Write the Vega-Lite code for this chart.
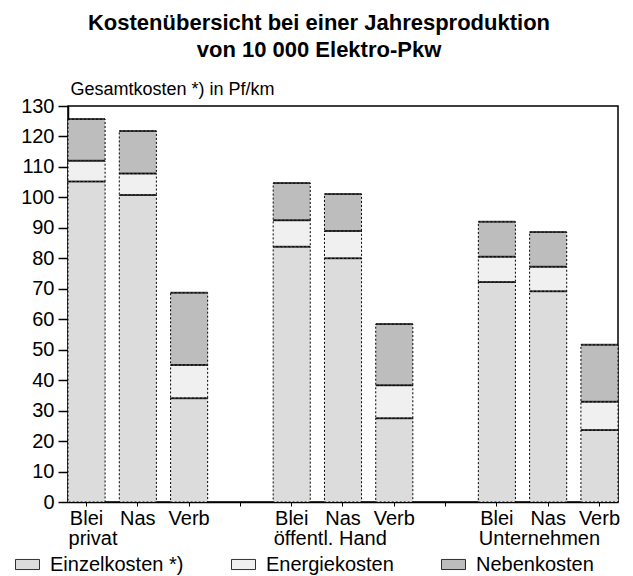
{
  "$schema": "https://vega.github.io/schema/vega-lite/v6.json",
  "width": 550,
  "height": 396,
  "autosize": {"type": "none"},
  "padding": {"left": 68, "top": 106, "right": 15, "bottom": 74},
  "title": {
    "text": ["Kostenübersicht bei einer Jahresproduktion", "von 10 000 Elektro-Pkw"],
    "font": "Liberation Sans",
    "fontSize": 22,
    "fontWeight": "bold",
    "color": "black",
    "anchor": "middle",
    "dx": -24,
    "offset": 18,
    "lineHeight": 27
  },
  "config": {
    "view": {"stroke": "black", "strokeWidth": 1.5},
    "font": "Liberation Sans",
    "axis": {"labelColor": "black", "titleColor": "black", "domainColor": "black", "tickColor": "black", "grid": false, "labelFont": "Liberation Sans", "titleFont": "Liberation Sans"},
    "legend": {"labelColor": "black", "labelFont": "Liberation Sans"}
  },
  "data": {
    "values": [
      {"slot": "privat|Blei", "komponente": "Einzelkosten *)", "wert": 105.2},
      {"slot": "privat|Blei", "komponente": "Energiekosten", "wert": 6.8},
      {"slot": "privat|Blei", "komponente": "Nebenkosten", "wert": 13.7},
      {"slot": "privat|Nas", "komponente": "Einzelkosten *)", "wert": 100.8},
      {"slot": "privat|Nas", "komponente": "Energiekosten", "wert": 7.0},
      {"slot": "privat|Nas", "komponente": "Nebenkosten", "wert": 14.0},
      {"slot": "privat|Verb", "komponente": "Einzelkosten *)", "wert": 34.1},
      {"slot": "privat|Verb", "komponente": "Energiekosten", "wert": 10.9},
      {"slot": "privat|Verb", "komponente": "Nebenkosten", "wert": 23.7},
      {"slot": "öffentl. Hand|Blei", "komponente": "Einzelkosten *)", "wert": 83.8},
      {"slot": "öffentl. Hand|Blei", "komponente": "Energiekosten", "wert": 8.7},
      {"slot": "öffentl. Hand|Blei", "komponente": "Nebenkosten", "wert": 12.2},
      {"slot": "öffentl. Hand|Nas", "komponente": "Einzelkosten *)", "wert": 80.0},
      {"slot": "öffentl. Hand|Nas", "komponente": "Energiekosten", "wert": 9.0},
      {"slot": "öffentl. Hand|Nas", "komponente": "Nebenkosten", "wert": 12.1},
      {"slot": "öffentl. Hand|Verb", "komponente": "Einzelkosten *)", "wert": 27.5},
      {"slot": "öffentl. Hand|Verb", "komponente": "Energiekosten", "wert": 10.8},
      {"slot": "öffentl. Hand|Verb", "komponente": "Nebenkosten", "wert": 20.1},
      {"slot": "Unternehmen|Blei", "komponente": "Einzelkosten *)", "wert": 72.2},
      {"slot": "Unternehmen|Blei", "komponente": "Energiekosten", "wert": 8.3},
      {"slot": "Unternehmen|Blei", "komponente": "Nebenkosten", "wert": 11.5},
      {"slot": "Unternehmen|Nas", "komponente": "Einzelkosten *)", "wert": 69.2},
      {"slot": "Unternehmen|Nas", "komponente": "Energiekosten", "wert": 8.0},
      {"slot": "Unternehmen|Nas", "komponente": "Nebenkosten", "wert": 11.4},
      {"slot": "Unternehmen|Verb", "komponente": "Einzelkosten *)", "wert": 23.6},
      {"slot": "Unternehmen|Verb", "komponente": "Energiekosten", "wert": 9.3},
      {"slot": "Unternehmen|Verb", "komponente": "Nebenkosten", "wert": 18.7}
    ]
  },
  "transform": [
    {"stack": "wert", "groupby": ["slot"], "sort": [{"field": "komponente", "order": "ascending"}], "as": ["y0", "y1"]}
  ],
  "encoding": {
    "y": {
      "field": "y1",
      "type": "quantitative",
      "scale": {"domain": [0, 130], "nice": false},
      "axis": {
        "values": [0, 10, 20, 30, 40, 50, 60, 70, 80, 90, 100, 110, 120, 130],
        "labelOverlap": false,
        "title": "Gesamtkosten *) in Pf/km",
        "titleAngle": 0,
        "titleAlign": "left",
        "titleBaseline": "alphabetic",
        "titleX": 2,
        "titleY": -12,
        "titleFontSize": 18,
        "titleFontWeight": "normal",
        "labelFontSize": 20,
        "tickSize": 10,
        "tickWidth": 1.5,
        "labelPadding": 4,
        "domainWidth": 1.5
      }
    }
  },
  "layer": [
    {
      "mark": {"type": "bar", "stroke": "black", "strokeWidth": 1, "strokeDash": [2, 2]},
      "encoding": {
        "x": {
          "field": "slot",
          "type": "nominal",
          "sort": null,
          "scale": {
            "domain": ["privat|Blei", "privat|Nas", "privat|Verb", "gap1", "öffentl. Hand|Blei", "öffentl. Hand|Nas", "öffentl. Hand|Verb", "gap2", "Unternehmen|Blei", "Unternehmen|Nas", "Unternehmen|Verb"],
            "paddingInner": 0.277,
            "paddingOuter": 0
          },
          "axis": {
            "orient": "bottom",
            "title": null,
            "labelExpr": "indexof(datum.label, '|') > 0 ? split(datum.label, '|')[1] : ''",
            "labelAngle": 0,
            "labelFontSize": 20,
            "labelOverlap": false,
            "tickSize": 4,
            "labelPadding": 2,
            "domainWidth": 1.5
          }
        },
        "y2": {"field": "y0"},
        "fill": {
          "field": "komponente",
          "type": "nominal",
          "scale": {"domain": ["Einzelkosten *)", "Energiekosten", "Nebenkosten"], "range": ["#dcdcdc", "#f0f0f0", "#bdbdbd"]},
          "legend": {
            "title": null,
            "orient": "none",
            "legendX": -53,
            "legendY": 446,
            "direction": "horizontal",
            "columns": 3,
            "gridAlign": "none",
            "columnPadding": 45,
            "labelFontSize": 20,
            "labelOffset": 10,
            "labelLimit": 300,
            "symbolType": "M-1,-0.42H1V0.42H-1Z",
            "symbolSize": 576,
            "symbolStrokeColor": "black",
            "symbolStrokeWidth": 0.8
          }
        }
      }
    },
    {
      "mark": {"type": "tick", "color": "black", "thickness": 2, "size": 37},
      "encoding": {
        "x": {
          "field": "slot",
          "type": "nominal",
          "sort": null,
          "axis": {
            "orient": "bottom",
            "title": null,
            "labelExpr": "indexof(datum.label, '|Blei') > 0 ? split(datum.label, '|')[0] : ''",
            "labelAngle": 0,
            "labelAlign": "left",
            "labelOffset": -18,
            "labelFontSize": 20,
            "labelOverlap": false,
            "labelLimit": 300,
            "ticks": false,
            "domain": false,
            "labelPadding": 26
          }
        }
      }
    }
  ],
  "resolve": {"axis": {"x": "independent"}}
}
